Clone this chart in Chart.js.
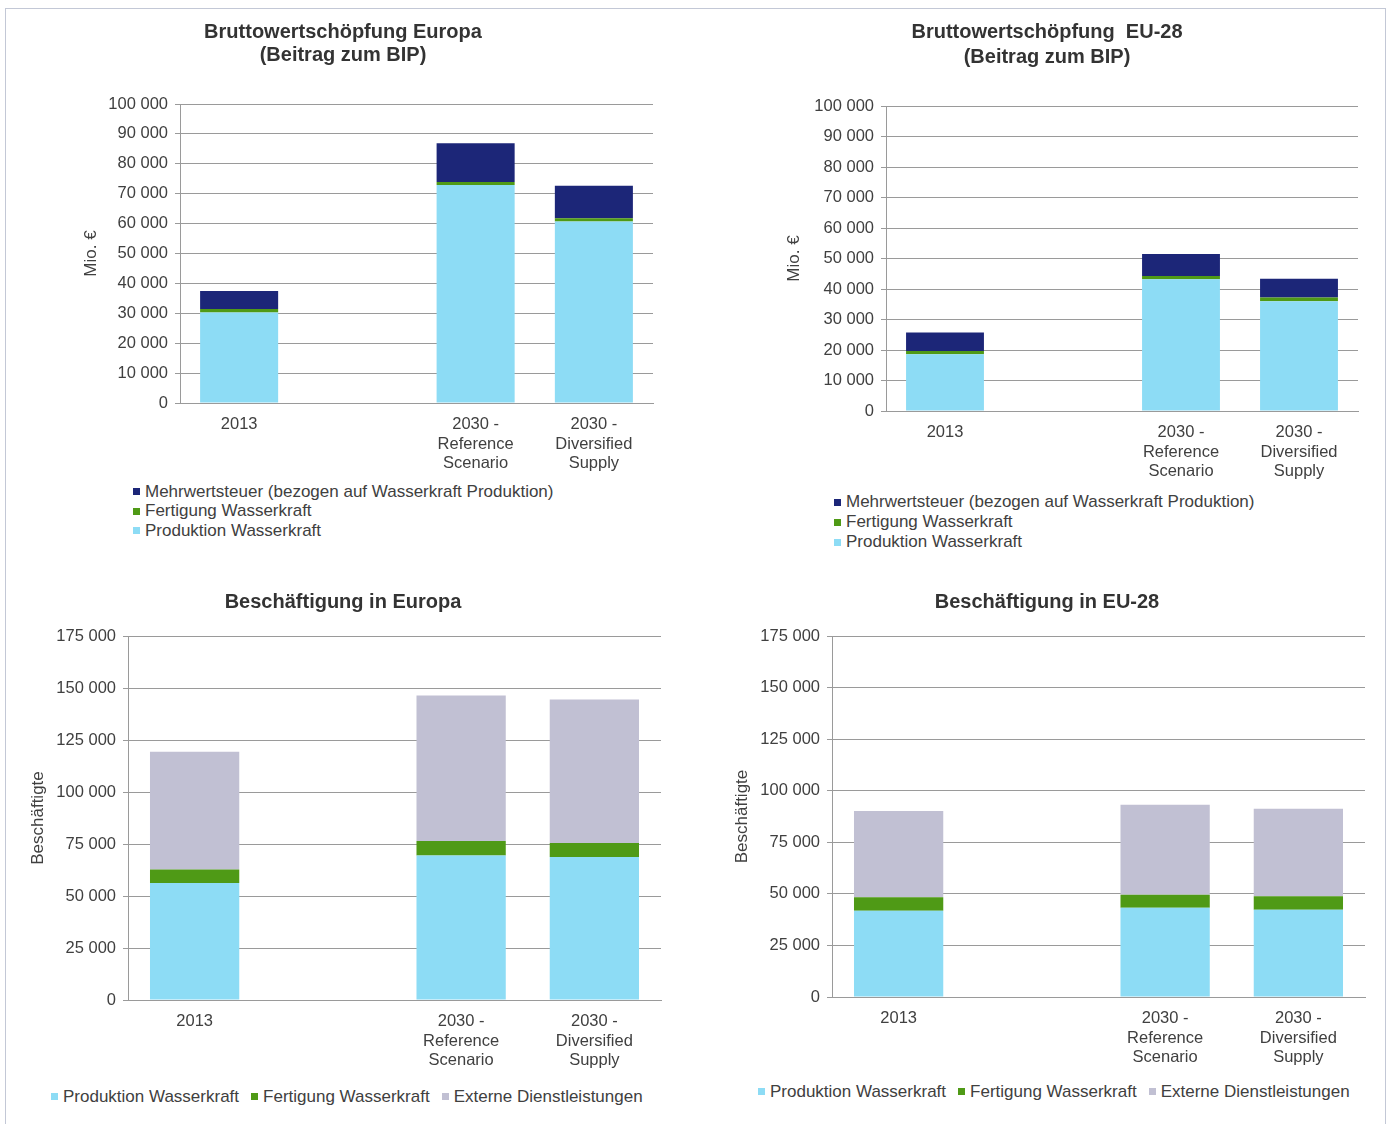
<!DOCTYPE html>
<html lang="de">
<head>
<meta charset="utf-8">
<title>Wasserkraft – Wertschöpfung und Beschäftigung</title>
<script src="https://cdn.jsdelivr.net/npm/chart.js@4.4.1/dist/chart.umd.min.js"></script>
<style>
  body { margin: 0; background: #fff; font-family: "Liberation Sans", Arial, sans-serif; }
  #page { position: relative; width: 1387px; height: 1124px; overflow: hidden; }
  .frame { position: absolute; left: 5px; top: 8px; width: 1379px; height: 1130px; border: 1px solid #c3c8d6; }
  .box { position: absolute; }
  .legend { position: absolute; color: #404040; font-size: 17px; }
  .legend .item { display: flex; align-items: center; white-space: nowrap; height: 19.5px; }
  .legend .sw { width: 7px; height: 7px; margin-right: 5px; flex: none; }
  .legend.row { display: flex; }
  .legend.row .item { margin-right: 12px; }
</style>
</head>
<body>
<div id="page">
  <div class="frame"></div>
  <div class="box" id="boxBwsEuropa"><canvas id="bwsEuropa"></canvas></div>
  <div class="box" id="boxBwsEu28"><canvas id="bwsEu28"></canvas></div>
  <div class="box" id="boxJobsEuropa"><canvas id="jobsEuropa"></canvas></div>
  <div class="box" id="boxJobsEu28"><canvas id="jobsEu28"></canvas></div>
  <div class="legend" id="legBwsEuropa"></div>
  <div class="legend" id="legBwsEu28"></div>
  <div class="legend row" id="legJobsEuropa"></div>
  <div class="legend row" id="legJobsEu28"></div>
</div>
<script>
// categories (the empty one leaves the gap between 2013 and 2030)
const categories = ['2013', '', ['2030 -', 'Reference', 'Scenario'], ['2030 -', 'Diversified', 'Supply']];

// Bruttowertschöpfung Europa, Mio. €
const bwsEuropaProduktion = [30300, null, 72900, 60700];
const bwsEuropaFertigung = [1100, null, 1000, 1100];
const bwsEuropaMwSt = [6100, null, 13000, 10900];

// Bruttowertschöpfung EU-28, Mio. €
const bwsEu28Produktion = [18600, null, 43200, 36000];
const bwsEu28Fertigung = [1100, null, 1100, 1200];
const bwsEu28MwSt = [6000, null, 7200, 6200];

// Beschäftigte Europa
const jobsEuropaProduktion = [56200, null, 69500, 68700];
const jobsEuropaFertigung = [6600, null, 6900, 6800];
const jobsEuropaExtern = [56500, null, 70000, 69000];

// Beschäftigte EU-28
const jobsEu28Produktion = [41800, null, 43300, 42300];
const jobsEu28Fertigung = [6500, null, 6300, 6500];
const jobsEu28Extern = [41900, null, 43600, 42400];

// value axes
const bwsMax = 100000, bwsStep = 10000;
const jobsMax = 175000, jobsStep = 25000;

const labelProduktion = 'Produktion Wasserkraft';
const labelFertigung = 'Fertigung Wasserkraft';
const labelMwSt = 'Mehrwertsteuer (bezogen auf Wasserkraft Produktion)';
const labelExtern = 'Externe Dienstleistungen';

const colors = {
    produktion: '#8ddcf5',
    fertigung: '#4f9a16',
    mwst: '#1c2678',
    extern: '#c1c0d3'
};

Chart.defaults.font.family = '"Liberation Sans", Arial, sans-serif';
Chart.defaults.color = '#404040';

const fmt = v => String(v).replace(/\B(?=(\d{3})+(?!\d))/g, ' ');

function placeBox(id, b) {
    const el = document.getElementById(id);
    el.style.left = b.left + 'px';
    el.style.top = b.top + 'px';
    el.style.width = b.width + 'px';
    el.style.height = b.height + 'px';
}

function makeChart(c) {
    placeBox(c.boxId, c.box);
    return new Chart(document.getElementById(c.canvasId), {
        type: 'bar',
        data: {
            labels: categories,
            datasets: c.datasets.map(d => ({
                label: d.label,
                data: d.data,
                backgroundColor: d.color,
                borderWidth: 0,
                barPercentage: c.barPct,
                categoryPercentage: 1
            }))
        },
        options: {
            responsive: true,
            maintainAspectRatio: false,
            animation: false,
            layout: { padding: { left: 0, right: c.padRight, top: 0, bottom: 0 } },
            plugins: {
                legend: { display: false },
                tooltip: { enabled: false },
                title: {
                    display: true,
                    text: c.title,
                    color: '#333333',
                    font: { size: 20, weight: 'bold', lineHeight: c.titleLH },
                    padding: { top: c.titleTop, bottom: c.titleBottom }
                }
            },
            scales: {
                x: {
                    stacked: true,
                    grid: { display: false, drawTicks: false },
                    border: { display: true, color: '#9a9a9a' },
                    ticks: { color: '#404040', font: { size: 16.5, lineHeight: 1.17 }, padding: 12, maxRotation: 0, autoSkip: false },
                    afterFit: s => { s.height = 75; }
                },
                y: {
                    stacked: true,
                    min: 0,
                    max: c.yMax,
                    grid: { color: '#9a9a9a', tickLength: 5 },
                    border: { display: true, color: '#9a9a9a' },
                    ticks: { stepSize: c.yStep, color: '#404040', font: { size: 16.5 }, padding: 7, callback: v => fmt(v) },
                    title: { display: true, text: c.yTitle, color: '#404040', font: { size: 17 }, padding: { top: c.yTitlePad, bottom: 0 } },
                    afterFit: s => { s.width = c.yWidth; }
                }
            }
        }
    });
}

function buildLegend(id, chart, order, pos) {
    const el = document.getElementById(id);
    el.style.left = pos.left + 'px';
    el.style.top = pos.top + 'px';
    order.forEach(i => {
        const ds = chart.data.datasets[i];
        const item = document.createElement('div');
        item.className = 'item';
        if (pos.lineHeight) item.style.height = pos.lineHeight + 'px';
        const sw = document.createElement('span');
        sw.className = 'sw';
        sw.style.background = ds.backgroundColor;
        const txt = document.createElement('span');
        txt.textContent = ds.label;
        item.appendChild(sw);
        item.appendChild(txt);
        el.appendChild(item);
    });
}

// Bruttowertschöpfung Europa
const bwsEuropaChart = makeChart({
    boxId: 'boxBwsEuropa', canvasId: 'bwsEuropa',
    box: { left: 33, top: 5, width: 637, height: 473 },
    padRight: 17,
    title: ['Bruttowertschöpfung Europa', '(Beitrag zum BIP)'],
    titleLH: 1.15, titleTop: 15.5, titleBottom: 37.5,
    yTitle: 'Mio. €', yTitlePad: 48, yWidth: 147,
    yMax: bwsMax, yStep: bwsStep, barPct: 0.66,
    datasets: [
        { label: labelProduktion, data: bwsEuropaProduktion, color: colors.produktion },
        { label: labelFertigung, data: bwsEuropaFertigung, color: colors.fertigung },
        { label: labelMwSt, data: bwsEuropaMwSt, color: colors.mwst }
    ]
});

// Bruttowertschöpfung EU-28
const bwsEu28Chart = makeChart({
    boxId: 'boxBwsEu28', canvasId: 'bwsEu28',
    box: { left: 736, top: 5, width: 639, height: 481 },
    padRight: 17,
    title: ['Bruttowertschöpfung  EU-28', '(Beitrag zum BIP)'],
    titleLH: 1.25, titleTop: 14.5, titleBottom: 36.5,
    yTitle: 'Mio. €', yTitlePad: 48, yWidth: 150,
    yMax: bwsMax, yStep: bwsStep, barPct: 0.66,
    datasets: [
        { label: labelProduktion, data: bwsEu28Produktion, color: colors.produktion },
        { label: labelFertigung, data: bwsEu28Fertigung, color: colors.fertigung },
        { label: labelMwSt, data: bwsEu28MwSt, color: colors.mwst }
    ]
});

// Beschäftigung in Europa
const jobsEuropaChart = makeChart({
    boxId: 'boxJobsEuropa', canvasId: 'jobsEuropa',
    box: { left: 25, top: 575, width: 641, height: 500 },
    padRight: 5,
    title: 'Beschäftigung in Europa',
    titleLH: 1.15, titleTop: 15.5, titleBottom: 22.5,
    yTitle: 'Beschäftigte', yTitlePad: 3, yWidth: 103,
    yMax: jobsMax, yStep: jobsStep, barPct: 0.67,
    datasets: [
        { label: labelProduktion, data: jobsEuropaProduktion, color: colors.produktion },
        { label: labelFertigung, data: jobsEuropaFertigung, color: colors.fertigung },
        { label: labelExtern, data: jobsEuropaExtern, color: colors.extern }
    ]
});

// Beschäftigung in EU-28
const jobsEu28Chart = makeChart({
    boxId: 'boxJobsEu28', canvasId: 'jobsEu28',
    box: { left: 729, top: 575, width: 641, height: 497 },
    padRight: 5,
    title: 'Beschäftigung in EU-28',
    titleLH: 1.15, titleTop: 15.5, titleBottom: 22.5,
    yTitle: 'Beschäftigte', yTitlePad: 3, yWidth: 103,
    yMax: jobsMax, yStep: jobsStep, barPct: 0.67,
    datasets: [
        { label: labelProduktion, data: jobsEu28Produktion, color: colors.produktion },
        { label: labelFertigung, data: jobsEu28Fertigung, color: colors.fertigung },
        { label: labelExtern, data: jobsEu28Extern, color: colors.extern }
    ]
});

buildLegend('legBwsEuropa', bwsEuropaChart, [2, 1, 0], { left: 133, top: 482, lineHeight: 19.5 });
buildLegend('legBwsEu28', bwsEu28Chart, [2, 1, 0], { left: 834, top: 492, lineHeight: 20 });
buildLegend('legJobsEuropa', jobsEuropaChart, [0, 1, 2], { left: 51, top: 1087 });
buildLegend('legJobsEu28', jobsEu28Chart, [0, 1, 2], { left: 758, top: 1082 });
</script>
</body>
</html>
